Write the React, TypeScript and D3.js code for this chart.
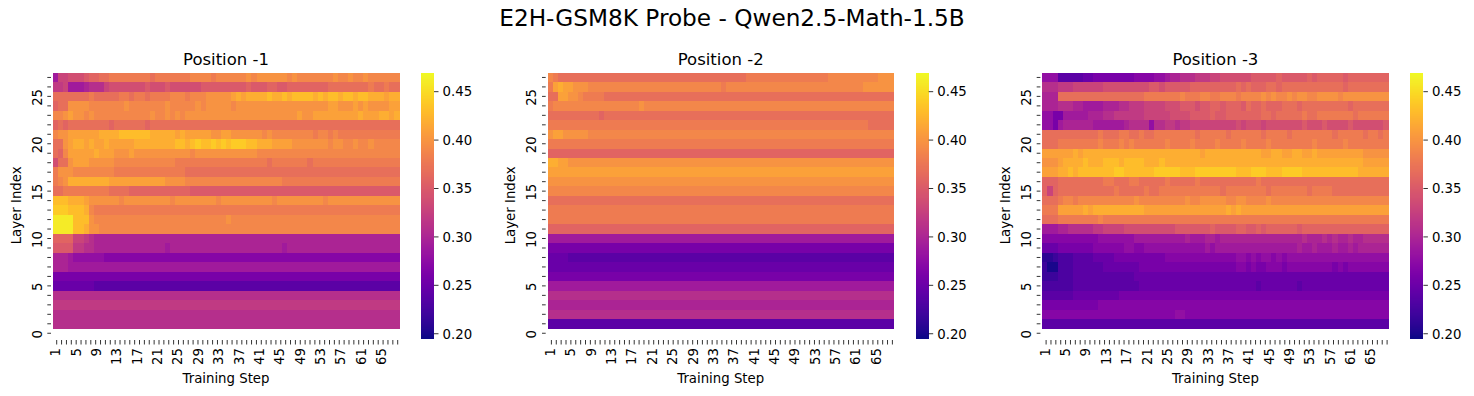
import * as d3 from "d3";

// one char per cell: value = 0.20 + 0.01 * base36(char); rows listed from layer 27 down to layer 1
const steps = d3.range(1, 69);
const layers = d3.range(28);
const vmin = 0.1956;
const vmax = 0.4696;
const cbarTicks = [0.2, 0.25, 0.3, 0.35, 0.4, 0.45];
const yTickLabels = [0, 5, 10, 15, 20, 25];
const titles = ["Position -1", "Position -2", "Position -3"];

const pos1 = [
  "9dde eefg ghhi iiii iiih iiii iiij jjji jjjj jjkj kkkk kkjk jjjj jjjk jjkj jkjj jjjj",
  "ccd9 99ab bbde eeee eefe eefe eeee efff ffff ffgf ffgg ffgg gggg gghh hhhh hhih hihh",
  "hhhh hhhi hhhh hiih iihi iiij jjij jjkk kkkl mlmm mmnm mnmn nnnm nmnn mnnm nnmm mlmm",
  "ghhk kkkj jjjj jjkj jjjj jjkj jjjj kjkk kkkj kkkk kkkk kkkk kkkk kkll kkkl klkk kkll",
  "jjkl kkjk jjjj jjjj jjjk jjkj kjkk kkkk kkkk kkkk kkkk kkkk lkkl llll llll mlll mmlm",
  "ghgh hhhh hhhg hhhh hhgh hhhh hhhh hhhh hhhh hhhh hhhh hhhh hhhh hhhh hhhh hhhh hhhh",
  "jkkl llll lmmm mnnn nnnm mmmm lmll lllk kllk kkkk kjkj jjjj jjji jjij iiii iiii iiii",
  "hhkl mmlm llml llll mmmm mmmm nnmn onno nono oonn mmml lllk kkkk kkjk kjjk jjkj jjjj",
  "hgjl llll mlll kkkl kkkk kkkk kkkj kkkk kkkk kkkk jjjj jjjj jjjj jjjj jjjj jjjj jjjj",
  "ehhk lllk kkkk jjjj jjjj jjjj iiii iiii iiii iiii iihi iiii iihi iiii iiii iiii iiii",
  "ikkk jjjj jjjj iiii iiii iiii iihh hhhh hhhh hhhh hhhh hhhh hhhh hhhh hhhh hhhh hhhh",
  "ijkm mmmm mmml llll llll llkk kkjj jjjj jjjj jjjj jjjj jiii iiii iiii iiii iiii iiii",
  "hhii iiii iiih hhhg gggg gggg gggf ffff ffff ffff ffff ffff ffff ffff ffff ffff ffff",
  "nnnm mmlk kkkk kjkk kkkk kkkj kkkk kkkk jkkk kkkk kkkj kkkk kkkk kjkk kkkk kkkk kkkk",
  "ooon nnmj iiii iiii iiii iiii iiii iiii iiii iiii iiii iiii iiii iiii iiii iiii iiii",
  "qqqq nnnk jjjj jjjj jjjj jjjj jjjj jjjj jjkj jjjj jjjj jjjj jjjj jjjj jjjj jjjj jjjj",
  "qqqq nnmk kjjj jjjj jjjj jjjj jjjj jjjj jjjj jjjj jjjj jjjj jjjj jjjj jjjj jjjj jjjj",
  "gggg ddcb aaaa aaaa aaaa aaaa aaaa aaaa aaaa aaaa aaaa aaaa aaaa aaaa aaaa aaaa aaaa",
  "ffff ccbb aaaa aaaa aaaa aa9a aaaa aaaa aaaa aaaa aaaa a9aa aaaa aaaa aaaa aaaa aaaa",
  "aaa9 8888 8877 7777 7777 7777 7777 7777 7777 7777 7777 7777 7777 7777 7777 7777 7777",
  "aaa9 9999 9999 9999 9999 9999 9999 9999 9999 9999 9999 9999 9999 9999 9999 9999 9999",
  "6666 6666 6666 6666 6666 6666 6666 6666 6666 6666 6666 6666 6666 6666 6666 6666 6666",
  "5555 5555 4444 4444 4444 4444 4444 4444 4444 4444 4444 4444 4444 4444 4444 4444 4444",
  "bbbb bbbb bbbb bbbb bbbb bbbb bbbb bbbb bbbb bbbb bbbb bbbb bbbb bbbb bbbb bbbb bbbb",
  "cccc cccc cccc cccc cccc cccc cccc cccc cccc cccc cccc cccc cccc cccc cccc cccc cccc",
  "bbbb bbbb bbbb bbbb bbbb bbbb bbbb bbbb bbbb bbbb bbbb bbbb bbbb bbbb bbbb bbbb bbbb",
  "bbbb bbbb bbbb bbbb bbbb bbbb bbbb bbbb bbbb bbbb bbbb bbbb bbbb bbbb bbbb bbbb bbbb",
];

const pos2 = [
  "jihh hhhh hhhh hhhh hhhh hhhh hhhh hhhh hhhh hhhi iiii iiii iiii iiij jjjj jjjj jkkk",
  "ilml lkkk jjjj jjjj jjjj jjjj jjjj jjjj jjij jjjj jjjj jjjj jjjj jjjj jjjj jjkk kkkk",
  "hhll kkji iiih hhhh hhhh hhhh hhhh hhhh hhhh hhhh hhhh hhhh hhhh hhhh hhhh hhhh hhhh",
  "ijjj jjjj jjjj jjjj jjkj jjjj jjjj jjjj jjjj jjjj jjjj jjjj jjjj jjjj jjjj jjjj jjjj",
  "hhhh hhhh hhgh hhhh hhhh hhhh hhhh hhhh hhhh hhhh hhhh hhhh hhhh hhhh hhhh hhhh hhhh",
  "iiii iiii iiii iiii iiii iiii iiii iiii iiii iiii iiii iiii iiii iiii iiii iiih hhhh",
  "kllk kkkk jjjj jjjj jjjj jjjj jjjj jjjj jjjj jjjj jjjj jjjj jjjj jjjj jjjj jjjj jjjj",
  "iiii iiii iiii iiii iiii iiii iiii iiii iiii iiii iiii iiii iiii iiii iiii iiii iiii",
  "gggg gggg gggg gggg gggg gggg gggg gggg gggg gggg gggg gggg gggg gggg gggg gggg gggg",
  "mmll kkkk kkkk kkkk kkkk kkkk kkkk kkkk kkkk kkkk kkkk kkkk kkkk kkkk kkkk kkkk kkkk",
  "llll llll llll llll llll llll llll llll llll llll llll llll llll llll llll llll llll",
  "kkkk kkkk kkkk kkkk kkkk kkkk kkkk kkkk kkkk kkkk kkkk kkkk kkkk kkkk kkkk kkkk kkkk",
  "jjjj jjjj jjjj jjjj jjjj jjjj jjjj jjjj jjjj jjjj jjjj jjjj jjjj jjjj jjjj jjjj jjjj",
  "hhhh hhhh hhhh hhhh hhhh hhhh hhhh hhhh hhhh hhhh hhhh hhhh hhhh hhhh hhhh hhhh hhhh",
  "iiii iiii iiii iiii iiii iiii iiii iiii iiii iiii iiii iiii iiii iiii iiii iiii iiii",
  "iiii iiii iiii iiii iiii iiii iiii iiii iiii iiii iiii iiii iiii iiii iiii iiii iiii",
  "gggg gggg gggg gggg gggg gggg gggg gggg gggg gggg gggg gggg gggg gggg gggg gggg gggg",
  "9999 9999 9999 9999 9999 9999 9999 9999 9999 9999 9999 9999 9999 9999 9999 9999 9999",
  "6666 6666 6666 6666 6666 6666 6666 6666 6666 6666 6666 6666 6666 6666 6666 6666 6666",
  "5555 4444 4444 4444 4444 4444 4444 4444 4444 4444 4444 4444 4444 4444 4444 4444 4444",
  "5555 5555 5555 5555 5555 5555 5555 5555 5555 5555 5555 5555 5555 5555 5555 5555 5555",
  "6666 6666 6666 6666 6666 6666 6666 6666 6666 6666 6666 6666 6666 6666 6666 6666 6666",
  "9999 9999 9999 9999 9999 9999 9999 9999 9999 9999 9999 9999 9999 9999 9999 9999 9999",
  "bbbb bbbb bbbb bbbb bbbb bbbb bbbb bbbb bbbb bbbb bbbb bbbb bbbb bbbb bbbb bbbb bbbb",
  "aaaa aaaa aaaa aaaa aaaa aaaa aaaa aaaa aaaa aaaa aaaa aaaa aaaa aaaa aaaa aaaa aaaa",
  "bbbb bbbb bbbb bbbb bbbb bbbb bbbb bbbb bbbb bbbb bbbb bbbb bbbb bbbb bbbb bbbb bbbb",
  "4444 4444 4444 4444 4444 4444 4444 4444 4444 4444 4444 4444 4444 4444 4444 4444 4444",
];

const pos3 = [
  "8884 4444 5566 6666 6677 7788 9aab bbcc cdde eeee efff ffgf ffff gfgg gggf gggg gggg",
  "bbbc ccdd dddd eeee eeee effe ffff fggg gggg gghg hggg hhgh hhhh hhhh hhhg hhhh hhhh",
  "aaah hhhh hhhh hhhh hhhh iiii iiij iiij jiij jjij jjjk jkjj kjkk jjkk kkjk kkkk kkkk",
  "aaab bbaa 9999 aaab bccc dddd eeef ffef fggf gggf hggh gggh hhgh hhhh hhhh ghhh hhhh",
  "8866 9999 9aaa bbcc cccc dddd deee efff fgff gggg gggh hghh hhhi hhii iiii ihii iiii",
  "8869 aaaa aa99 9999 abbb b8bb ccbc cddd dddd dded eeed eeee eeef eeef eeee feee eeef",
  "hhhh hhhh hhhi hhhi ihhi hhii iiii iihi iiii hiii iiih iiii hiii iiii ihii iiih iihi",
  "hhhi iiii iiij iiij ijii iiii jiii ijii iiji iiij iiii jiii iiii ijii iiij iiii iiii",
  "llll llml mmmm mmmm mmmm mmmm mmmm mmml mmmm mmmm mmml lmml lmml lmll llll lllk kkkk",
  "kkkl mmmm nmmm nnnm nnnn mmmn mmmm mmmm mmmm mmmm mmmm mmmm mmmm mmmm mmmm mmml llll",
  "lllm mnmn nnnn nnoo nnnn nnoo ooon nnoo oooo oonn nooo nnno ooon nnnn nnnn nnmm mmmm",
  "gggh hhhh hhhh iihh hiih hhhh ihhh hhih hhhh hhhh hhih hhhh hhhh hhhh hhhh hhhh hhhh",
  "gdgh hhhh hhhh hhih hhhh ihhi iiii iiii iiih iiii iiii hiii iiii hiii ihhh hhhh hhhh",
  "hhhi jjij jjjj jjjj jjkj jjjj jjjj kjjk kkkk jjkk jjjj kjjj jjjj jjjj jjjj jjjj jjjj",
  "iiil llll mlmm mmmm mmmm llll llll llll llll mlml llll llll llll llll llll llll llll",
  "hhhi iiii iiij iiii iiii iiii iiii iiii iiii iiii iiii iiii iiii iiii iiii iiii iiii",
  "999a abbb bbcc dddd eeee eeee eeff ffff fgff ffgg ffgf gggg ggfg gggg gggg gggg gggg",
  "7777 7777 7778 8888 8899 9999 9999 a999 aa9a aaaa aaaa aaaa aaab aaab abaa baab bbbb",
  "5556 6666 6677 7777 8877 8888 8888 8888 9899 9999 9999 9999 99a9 9a99 9a99 a9aa aaaa",
  "1123 3344 4455 5566 6666 6666 7777 7777 7777 7788 7878 8787 8888 8888 8888 8888 8888",
  "2003 3344 4444 5555 5556 6666 6666 6666 6666 6677 6766 7776 7777 7777 7676 7777 7777",
  "2223 3344 4444 4444 4455 5555 5555 5555 5555 5555 5555 5555 5555 5555 5555 5555 5555",
  "3333 3344 4444 4444 4445 5555 5555 5555 5555 5555 5545 5555 5545 5555 5555 5555 5555",
  "4444 4455 5555 5556 6666 6666 6666 6666 6666 6666 6666 6666 6666 6666 6666 6666 6666",
  "6666 6666 6667 7777 7777 7777 7777 7777 7777 7777 7777 7777 7777 7777 7777 7777 7777",
  "7777 7777 7777 7777 7777 7777 7788 7777 7777 7777 7777 7777 7777 7777 7777 7777 7777",
  "4444 4444 4444 4444 4444 4444 4444 4444 4444 4444 4444 4444 4444 4444 4444 4444 4444",
];

const panels = [pos1, pos2, pos3];

const decode = (rows: string[]) =>
  rows.map((r) => r.replace(/ /g, "").split("").map((c) => 0.2 + 0.01 * parseInt(c, 36)));

const font = "DejaVu Sans";
const panelDx = 494.7;
const ax = { left: 53, top: 72.7, width: 346, height: 265.3 };
const cb = { left: 421, width: 13 };

const color = d3.scaleSequential(d3.interpolatePlasma).domain([vmin, vmax]);

const Panel = ({ rows, title, dx }: { rows: string[]; title: string; dx: number }) => {
  const values = decode(rows);
  const x = d3.scaleBand<number>().domain(d3.range(steps.length)).range([ax.left, ax.left + ax.width]);
  const y = d3.scaleBand<number>().domain(d3.range(27, -1, -1)).range([ax.top, ax.top + ax.height]);
  // minor tick marks along the x axis
  const minor = d3.scaleLinear().domain([0, 70]).range([ax.left + 3.7, ax.left + 344.7]);
  const cy = d3.scaleLinear().domain([vmin, vmax]).range([ax.top + ax.height, ax.top]);
  const levels = d3.range(256);
  const lvl = d3.scaleLinear().domain([0, 256]).range([vmin, vmax]);
  const cx = ax.left + ax.width / 2;
  const axisBottom = ax.top + ax.height;

  return (
    <g transform={`translate(${dx},0)`}>
      <g shapeRendering="crispEdges">
        {values.map((row, ri) =>
          row.map((v, ci) => (
            <rect
              key={`${ri}-${ci}`}
              x={x(ci)}
              y={y(27 - ri)}
              width={x.bandwidth() + 0.6}
              height={y.bandwidth() + 0.6}
              fill={color(v)}
            />
          ))
        )}
      </g>
      {layers.map((l) => (
        <line
          key={l}
          x1={ax.left - 5.7}
          x2={ax.left - 2}
          y1={y(l)! + y.bandwidth() / 2}
          y2={y(l)! + y.bandwidth() / 2}
          stroke="#000"
          strokeWidth={0.8}
        />
      ))}
      {yTickLabels.map((l) => (
        <text
          key={l}
          transform={`translate(${ax.left - 11.5},${y(l)! + y.bandwidth() / 2 + 1}) rotate(-90)`}
          textAnchor="middle"
          fontSize={13.3}
          fontFamily={font}
        >
          {l}
        </text>
      ))}
      {d3.range(71).map((i) => (
        <line
          key={i}
          x1={minor(i)}
          x2={minor(i)}
          y1={axisBottom + 2}
          y2={axisBottom + 6.5}
          stroke="#000"
          strokeWidth={0.8}
        />
      ))}
      {steps.map((s, i) =>
        i % 4 === 0 ? (
          <text
            key={s}
            transform={`translate(${x(i)! + x.bandwidth() / 2},${axisBottom + 10}) rotate(-90)`}
            textAnchor="end"
            dy="0.36em"
            fontSize={13.3}
            fontFamily={font}
          >
            {s}
          </text>
        ) : null
      )}
      <text x={cx} y={383} textAnchor="middle" fontSize={13.3} fontFamily={font}>
        Training Step
      </text>
      <text
        transform={`translate(20.5,${ax.top + ax.height / 2}) rotate(-90)`}
        textAnchor="middle"
        fontSize={13.3}
        fontFamily={font}
      >
        Layer Index
      </text>
      <text x={cx} y={65} textAnchor="middle" fontSize={16.5} fontFamily={font}>
        {title}
      </text>
      <g shapeRendering="crispEdges">
        {levels.map((k) => (
          <rect
            key={k}
            x={cb.left}
            width={cb.width}
            y={cy(lvl(k + 1))}
            height={cy(lvl(k)) - cy(lvl(k + 1)) + 0.5}
            fill={color(lvl(k + 0.5))}
          />
        ))}
      </g>
      {cbarTicks.map((t) => (
        <g key={t} transform={`translate(${cb.left + cb.width},${cy(t)})`}>
          <line x1={0} x2={4.5} stroke="#000" strokeWidth={0.8} />
          <text x={8.5} dy="0.36em" fontSize={13.3} fontFamily={font}>
            {t.toFixed(2)}
          </text>
        </g>
      ))}
    </g>
  );
};

export default function App() {
  return (
    <svg
      width={1474}
      height={396}
      style={{ position: "absolute", left: 0, top: 0, background: "#fff" }}
    >
      <rect width={1474} height={396} fill="#fff" />
      <text x={732} y={26} textAnchor="middle" fontSize={23.2} fontFamily={font}>
        E2H-GSM8K Probe - Qwen2.5-Math-1.5B
      </text>
      {panels.map((rows, p) => (
        <Panel key={p} rows={rows} title={titles[p]} dx={p * panelDx} />
      ))}
    </svg>
  );
}
